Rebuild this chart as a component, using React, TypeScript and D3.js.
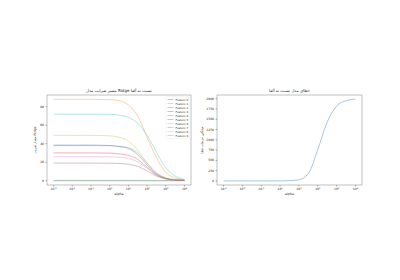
import React from "react";
import * as d3 from "d3";

const logAlphas = [-3, -2, -1, 0, 0.5, 1, 1.5, 2, 2.5, 3, 3.5, 4];
const featureNames = ["Feature 0","Feature 1","Feature 2","Feature 3","Feature 4","Feature 5","Feature 6","Feature 7","Feature 8","Feature 9"];
const f0 = [38.5, 38.5, 38.5, 38, 37, 35, 28, 17, 7, 2.5, 0.8, 0.3];
const f1 = [88, 88, 88, 87.7, 86.5, 82, 70, 47, 25, 9, 3, 1];
const f2 = [0.3, 0.3, 0.3, 0.3, 0.3, 0.3, 0.3, 0.3, 0.25, 0.2, 0.1, 0.05];
const f3 = [30, 30, 30, 29.8, 29, 27.5, 23, 14.5, 6.5, 2.3, 0.8, 0.3];
const f4 = [-0.2, -0.2, -0.2, -0.2, -0.2, -0.2, -0.25, -0.3, -0.3, -0.2, -0.1, 0];
const f5 = [19, 19, 19, 18.9, 18.6, 17.8, 15.5, 10.5, 5, 1.8, 0.6, 0.2];
const f6 = [26, 26, 26, 25.8, 25.3, 24, 20.5, 13.5, 6, 2, 0.7, 0.2];
const f7 = [38, 38, 38, 37.8, 37, 35.5, 30, 19, 8.5, 3, 1, 0.3];
const f8 = [49, 49, 49, 48.5, 47, 43, 33, 19, 8, 3, 1, 0.4];
const f9 = [72, 72, 72, 71.8, 71, 68.5, 62, 49, 31, 14, 5, 1.5];
const featureSeries = [f0, f1, f2, f3, f4, f5, f6, f7, f8, f9];
const errorValues = [0, 0, 0, 1, 6, 28, 180, 760, 1430, 1820, 1950, 1990];
const xTickExps = [-3, -2, -1, 0, 1, 2, 3, 4];
const leftYTicks = [0, 20, 40, 60, 80];
const rightYTicks = [0, 250, 500, 750, 1000, 1250, 1500, 1750, 2000];

const colors = d3.schemeCategory10;
const FONT = "DejaVu Sans, sans-serif";

function XAxis({ x, y }: { x: d3.ScaleLinear<number, number>; y: number }) {
  return (
    <g>
      {xTickExps.map((e) => (
        <g key={e} transform={`translate(${x(e)},${y})`}>
          <line y2={1.5} stroke="#333" strokeWidth={0.4} />
          <text y={5} fontSize={3} textAnchor="middle" fill="#222" fontFamily={FONT} direction="ltr">
            10<tspan fontSize={2.1} dy={-1.3}>{e}</tspan>
          </text>
        </g>
      ))}
    </g>
  );
}

export default function App() {
  const w = 400, h = 280;
  const L = { x0: 47, x1: 191, y0: 95, y1: 185 };
  const R = { x0: 217, x1: 362, y0: 95, y1: 185 };
  const xDom = [-3 - 0.35, 4 + 0.35];
  const xL = d3.scaleLinear().domain(xDom).range([L.x0, L.x1]);
  const xR = d3.scaleLinear().domain(xDom).range([R.x0, R.x1]);
  const yL = d3.scaleLinear().domain([-4.7, 92.7]).range([L.y1, L.y0]);
  const yR = d3.scaleLinear().domain([-99.5, 2089.5]).range([R.y1, R.y0]);
  const lineL = d3.line<number>().x((_, i) => xL(logAlphas[i])).y((d) => yL(d)).curve(d3.curveMonotoneX);
  const lineR = d3.line<number>().x((_, i) => xR(logAlphas[i])).y((d) => yR(d)).curve(d3.curveMonotoneX);

  const legX = 166, legY = 96.5, legW = 23, rowH = 4;

  return (
    <svg width={w} height={h} style={{ position: "absolute", left: 0, top: 0, background: "#fff" }}>
      {/* Left panel */}
      <text x={(L.x0 + L.x1) / 2} y={L.y0 - 3} fontSize={4} textAnchor="middle" fill="#222" fontFamily={FONT}>
        مسیر ضرایب مدل Ridge نسبت به آلفا
      </text>
      {featureSeries.map((s, i) => (
        <path key={i} d={lineL(s) || ""} fill="none" stroke={colors[i]} strokeOpacity={0.45} strokeWidth={0.8} />
      ))}
      <rect x={L.x0} y={L.y0} width={L.x1 - L.x0} height={L.y1 - L.y0} fill="none" stroke="#666" strokeWidth={0.4} />
      <XAxis x={xL} y={L.y1} />
      {leftYTicks.map((t) => (
        <g key={t} transform={`translate(${L.x0},${yL(t)})`}>
          <line x2={-1.5} stroke="#333" strokeWidth={0.4} />
          <text x={-3} dy={1} fontSize={3} textAnchor="end" fill="#222" fontFamily={FONT}>{t}</text>
        </g>
      ))}
      <text x={(L.x0 + L.x1) / 2} y={L.y1 + 10} fontSize={3.2} textAnchor="middle" fill="#222" fontFamily={FONT} direction="ltr">alpha</text>
      <text transform={`translate(${L.x0 - 11},${(L.y0 + L.y1) / 2}) rotate(-90)`} fontSize={3.2} textAnchor="middle" fill="#222" fontFamily={FONT}>
        مقدار ضریب Ridge
      </text>
      <rect x={legX} y={legY} width={legW} height={rowH * 10 + 2} fill="#fff" fillOpacity={0.8} stroke="#ddd" strokeWidth={0.3} rx={0.6} />
      {featureNames.map((n, i) => (
        <g key={n} transform={`translate(${legX + 1.5},${legY + 3 + i * rowH})`}>
          <line x2={6} stroke={colors[i]} strokeOpacity={0.45} strokeWidth={0.8} />
          <text x={8} dy={1} fontSize={2.7} fill="#222" fontFamily={FONT} direction="ltr">{n}</text>
        </g>
      ))}

      {/* Right panel */}
      <text x={(R.x0 + R.x1) / 2} y={R.y0 - 3} fontSize={4} textAnchor="middle" fill="#222" fontFamily={FONT}>
        خطای مدل نسبت به آلفا
      </text>
      <path d={lineR(errorValues) || ""} fill="none" stroke={colors[0]} strokeOpacity={0.5} strokeWidth={0.8} />
      <rect x={R.x0} y={R.y0} width={R.x1 - R.x0} height={R.y1 - R.y0} fill="none" stroke="#666" strokeWidth={0.4} />
      <XAxis x={xR} y={R.y1} />
      {rightYTicks.map((t) => (
        <g key={t} transform={`translate(${R.x0},${yR(t)})`}>
          <line x2={-1.5} stroke="#333" strokeWidth={0.4} />
          <text x={-3} dy={1} fontSize={3} textAnchor="end" fill="#222" fontFamily={FONT}>{t}</text>
        </g>
      ))}
      <text x={(R.x0 + R.x1) / 2} y={R.y1 + 10} fontSize={3.2} textAnchor="middle" fill="#222" fontFamily={FONT} direction="ltr">alpha</text>
      <text transform={`translate(${R.x0 - 14},${(R.y0 + R.y1) / 2}) rotate(-90)`} fontSize={3.2} textAnchor="middle" fill="#222" fontFamily={FONT}>
        میانگین مربعات خطا
      </text>
    </svg>
  );
}
